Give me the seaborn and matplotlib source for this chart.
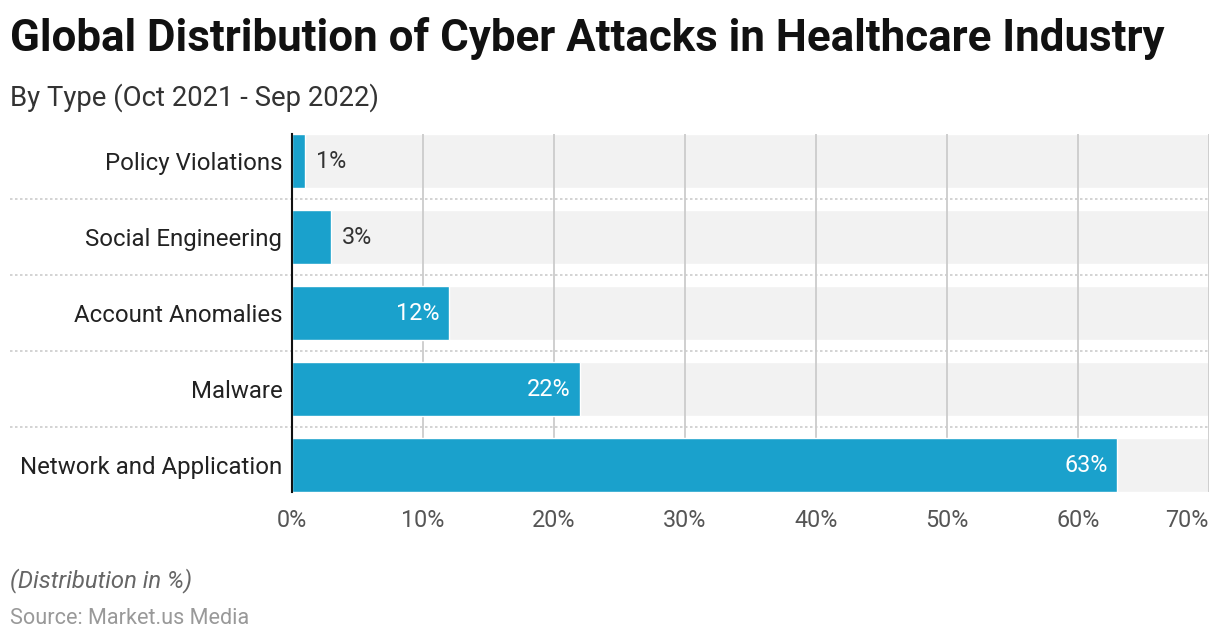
import seaborn as sns
import matplotlib.pyplot as plt
import pandas as pd

# Chart data
categories = ["Policy Violations", "Social Engineering", "Account Anomalies",
              "Malware", "Network and Application"]
shares = [1, 3, 12, 22, 63]
x_ticks = [0, 10, 20, 30, 40, 50, 60, 70]

df = pd.DataFrame({"type": categories, "share": shares})

sns.set_style("white")
plt.rcParams["font.family"] = ["Roboto", "DejaVu Sans"]

fig = plt.figure(figsize=(12.2, 6.42), dpi=100)
ax = fig.add_axes([292 / 1220, 150 / 642, 917 / 1220, 358 / 642])

bar_color = "#1aa1cc"
bar_h = 54 / 76

# light grey track behind each bar
ax.barh(range(len(categories)), [70] * len(categories), height=bar_h,
        color="#f2f2f2", zorder=0)

# vertical grid
for t in x_ticks[1:]:
    ax.axvline(t, color="#cccccc", lw=1.3, zorder=1)

sns.barplot(data=df, x="share", y="type", orient="h", color=bar_color,
            width=bar_h, saturation=1, ax=ax, zorder=2)

# value labels
for i, v in enumerate(shares):
    if v < 5:
        ax.text(v + 0.8, i, f"{v}%", va="center", ha="left",
                fontsize=16.8, color="#333333", zorder=3)
    else:
        ax.text(v - 0.75, i, f"{v}%", va="center", ha="right",
                fontsize=16.8, color="white", zorder=3)

# dotted separators between rows (extend under the labels)
for i in range(len(categories) - 1):
    ax.axhline(i + 0.5, xmin=-282 / 917, xmax=1, color="#cccccc", lw=1.2,
               ls=(0, (1.5, 1.5)), clip_on=False, zorder=1)

ax.set_xlim(0, 70)
ax.set_ylim(4 + 27 / 76, -27 / 76)
ax.set_xticks(x_ticks)
ax.set_xticklabels([f"{t}%" for t in x_ticks])
ax.get_xticklabels()[-1].set_horizontalalignment("right")
ax.tick_params(axis="x", labelsize=16.8, labelcolor="#555555", length=0, pad=12)
ax.tick_params(axis="y", labelsize=17.3, labelcolor="#222222", length=0, pad=7)
ax.set_xlabel("")
ax.set_ylabel("")
for s in ["top", "right", "bottom"]:
    ax.spines[s].set_visible(False)
ax.spines["left"].set_color("#111111")
ax.spines["left"].set_linewidth(1.5)
ax.spines["left"].set_zorder(4)

# titles and footer
fig.text(10 / 1220, 1 - 38 / 642, "Global Distribution of Cyber Attacks in Healthcare Industry",
         fontsize=31.6, fontweight="bold", color="#111111", va="center", ha="left")
fig.text(10 / 1220, 1 - 98 / 642, "By Type (Oct 2021 - Sep 2022)",
         fontsize=19.8, color="#333333", va="center", ha="left")
fig.text(10 / 1220, 1 - 581 / 642, "(Distribution in %)",
         fontsize=17.2, style="italic", color="#666666", va="center", ha="left")
fig.text(10 / 1220, 1 - 618 / 642, "Source: Market.us Media",
         fontsize=15.6, color="#999999", va="center", ha="left")

fig.savefig("out.png", dpi=100)
